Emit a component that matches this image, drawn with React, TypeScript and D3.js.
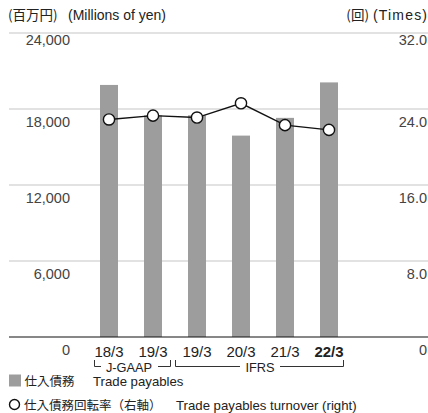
import React from "react";
import * as d3 from "d3";

const categories = ["18/3", "19/3", "19/3", "20/3", "21/3", "22/3"];
const payables = [19900, 17500, 17500, 15900, 17300, 20100];
const turnover = [22.9, 23.3, 23.1, 24.6, 22.3, 21.8];
const leftTicks = [0, 6000, 12000, 18000, 24000];
const rightTicks = [0, 8, 16, 24, 32];

const W = 428;
const H = 413;
const FONT = "'Liberation Sans', 'Noto Sans CJK JP', sans-serif";
const CJK = "'Noto Sans CJK JP', sans-serif";

export default function App() {
  const top = 33;
  const base = 337;
  const yL = d3.scaleLinear().domain([0, 24000]).range([base, top]);
  const yR = d3.scaleLinear().domain([0, 32]).range([base, top]);
  const x = d3.scalePoint<number>().domain(d3.range(categories.length)).range([109, 329]);
  const bw = 18;
  const line = d3
    .line<number>()
    .x((_, i) => x(i)!)
    .y((d) => yR(d));
  const fmt = d3.format(",");
  const gridX0 = 9;
  const gridX1 = 428;
  const labelY = (v: number, max: number, s: d3.ScaleLinear<number, number>) =>
    v === max ? s(v) + 12 : s(v) + 18;

  return (
    <svg
      width={W}
      height={H}
      style={{ position: "absolute", left: 0, top: 0, fontFamily: FONT }}
    >
      <rect width={W} height={H} fill="#fff" />
      <text x={8} y={19.5} fontSize={13.5} fontFamily={CJK} fill="#222">(百万円)</text>
      <text x={68} y={19.5} fontSize={14} fill="#222">(Millions of yen)</text>
      <text x={369} y={19.5} fontSize={13.5} fontFamily={CJK} fill="#222" textAnchor="end">(回)</text>
      <text x={373} y={19.5} fontSize={14} fill="#222" textLength={54} lengthAdjust="spacing">(Times)</text>

      {leftTicks.slice(1).map((t) => (
        <line key={"g" + t} x1={gridX0} x2={gridX1} y1={yL(t)} y2={yL(t)} stroke="#d9d9d9" strokeWidth={1.5} />
      ))}
      {leftTicks.map((t) => (
        <text key={"l" + t} x={70} y={labelY(t, 24000, yL)} fontSize={14.5} fill="#444" textAnchor="end">
          {fmt(t)}
        </text>
      ))}
      {rightTicks.map((t) => (
        <text key={"r" + t} x={427} y={labelY(t, 32, yR)} fontSize={14.5} fill="#444" textAnchor="end">
          {t === 0 ? "0" : d3.format(".1f")(t)}
        </text>
      ))}

      {payables.map((v, i) => (
        <rect key={"b" + i} x={x(i)! - bw / 2} y={yL(v)} width={bw} height={base - yL(v)} fill="#9d9d9d" />
      ))}
      <line x1={gridX0} x2={gridX1} y1={base} y2={base} stroke="#111" strokeWidth={1.2} />

      <path d={line(turnover)!} fill="none" stroke="#111" strokeWidth={1.4} />
      {turnover.map((v, i) => (
        <circle key={"c" + i} cx={x(i)!} cy={yR(v)} r={5.6} fill="#fff" stroke="#111" strokeWidth={1.4} />
      ))}

      {categories.map((c, i) => (
        <text
          key={"x" + i}
          x={x(i)!}
          y={356.5}
          fontSize={15}
          fill="#222"
          textAnchor="middle"
          fontWeight={i === categories.length - 1 ? "bold" : "normal"}
        >
          {c}
        </text>
      ))}

      <g stroke="#333" strokeWidth={1} fill="none">
        <path d="M94.5,360 V366.5 H101" />
        <path d="M158,366.5 H170.5 V360" />
        <path d="M175.5,360 V366.5 H240" />
        <path d="M280,366.5 H343.5 V360" />
      </g>
      <text x={129} y={371.5} fontSize={12.8} fill="#222" textAnchor="middle">J-GAAP</text>
      <text x={260} y={371.5} fontSize={12.8} fill="#222" textAnchor="middle">IFRS</text>

      <rect x={9} y={374.5} width={12} height={12} fill="#9d9d9d" />
      <text x={24.5} y={385.5} fontSize={12.5} fontFamily={CJK} fill="#222">仕入債務</text>
      <text x={93} y={385.5} fontSize={13.2} fill="#222">Trade payables</text>
      <circle cx={14.5} cy={404.5} r={5} fill="#fff" stroke="#111" strokeWidth={1.4} />
      <text x={24} y={409.5} fontSize={12.5} fontFamily={CJK} fill="#222">仕入債務回転率（右軸）</text>
      <text x={176} y={409.5} fontSize={13.2} fill="#222">Trade payables turnover (right)</text>
    </svg>
  );
}
